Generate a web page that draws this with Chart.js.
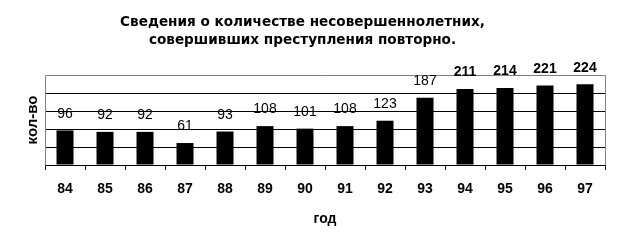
<!DOCTYPE html>
<html>
<head>
<meta charset="utf-8">
<script src="https://cdn.jsdelivr.net/npm/chart.js@4/dist/chart.umd.min.js"></script>
<style>
  html, body { margin: 0; padding: 0; background: #ffffff; }
  #wrap { width: 620px; height: 249px; }
</style>
</head>
<body>
<div id="wrap"><canvas id="c" width="620" height="249"></canvas></div>
<script>
const categories = ['84', '85', '86', '87', '88', '89', '90', '91', '92', '93', '94', '95', '96', '97'];
const values = [96, 92, 92, 61, 93, 108, 101, 108, 123, 187, 211, 214, 221, 224];
const titleLines = ['Сведения о количестве несовершеннолетних,', 'совершивших преступления повторно.'];
const xTitle = 'год';
const yTitle = 'кол-во';
const yMin = 0, yMax = 250, yStep = 50;

const labelPlugin = {
  id: 'barLabels',
  afterDatasetsDraw(chart) {
    const ctx = chart.ctx;
    const meta = chart.getDatasetMeta(0);
    ctx.save();
    ctx.fillStyle = '#000000';
    ctx.textAlign = 'center';
    ctx.textBaseline = 'middle';
    meta.data.forEach((bar, i) => {
      const bold = i >= 10;
      ctx.font = (bold ? 'bold ' : '') + '14px "Liberation Sans", Arial, sans-serif';
      ctx.fillText(String(chart.data.datasets[0].data[i]), bar.x, bar.y - 16.5);
    });
    ctx.restore();
  }
};

const borderPlugin = {
  id: 'plotBorder',
  beforeDatasetsDraw(chart) {
    const a = chart.chartArea;
    const ctx = chart.ctx;
    ctx.save();
    ctx.strokeStyle = '#808080';
    ctx.lineWidth = 1;
    ctx.beginPath();
    ctx.moveTo(Math.round(a.left) + 0.5, Math.round(a.bottom) + 0.5);
    ctx.lineTo(Math.round(a.left) + 0.5, Math.round(a.top) + 0.5);
    ctx.lineTo(Math.round(a.right) + 0.5, Math.round(a.top) + 0.5);
    ctx.lineTo(Math.round(a.right) + 0.5, Math.round(a.bottom) + 0.5);
    ctx.stroke();
    ctx.restore();
  }
};

new Chart(document.getElementById('c'), {
  type: 'bar',
  data: {
    labels: categories,
    datasets: [{
      data: values,
      backgroundColor: '#000000',
      borderWidth: 0,
      categoryPercentage: 1.0,
      barPercentage: 0.425
    }]
  },
  options: {
    responsive: false,
    devicePixelRatio: 1,
    animation: false,
    layout: { padding: { left: 0, right: 15, top: 0, bottom: 0 } },
    plugins: {
      legend: { display: false },
      tooltip: { enabled: false },
      title: {
        display: true,
        text: titleLines,
        color: '#000000',
        font: { family: '"DejaVu Sans", sans-serif', size: 13.6, weight: 'bold', lineHeight: 18 / 13.6 },
        padding: { top: 13.5, bottom: 25.5 }
      }
    },
    scales: {
      x: {
        grid: {
          display: true,
          drawOnChartArea: false,
          drawTicks: true,
          tickLength: 5,
          color: '#000000',
          offset: true
        },
        border: { display: true, color: '#000000', width: 1 },
        ticks: {
          color: '#000000',
          padding: 11,
          maxRotation: 0,
          autoSkip: false,
          font: { family: '"Liberation Sans", Arial, sans-serif', size: 14, weight: 'bold' }
        },
        title: {
          display: true,
          text: xTitle,
          color: '#000000',
          font: { family: '"Liberation Sans", Arial, sans-serif', size: 14, weight: 'bold', lineHeight: 1.2 },
          padding: { top: 0, bottom: 21.6 }
        },
        afterFit(scale) { scale.height = 84; }
      },
      y: {
        min: yMin,
        max: yMax,
        ticks: { display: false, stepSize: yStep },
        grid: {
          display: true,
          drawTicks: false,
          color: (c) => (c.tick && c.tick.value === yMax ? 'rgba(0,0,0,0)' : '#000000'),
          lineWidth: 1
        },
        border: { display: false },
        title: {
          display: true,
          text: yTitle,
          color: '#000000',
          font: { family: '"Liberation Sans", Arial, sans-serif', size: 15, weight: 'bold', lineHeight: 1.2 },
          padding: { top: 24, bottom: 0 }
        },
        afterFit(scale) { scale.width = 45; }
      }
    }
  },
  plugins: [borderPlugin, labelPlugin]
});
</script>
</body>
</html>
